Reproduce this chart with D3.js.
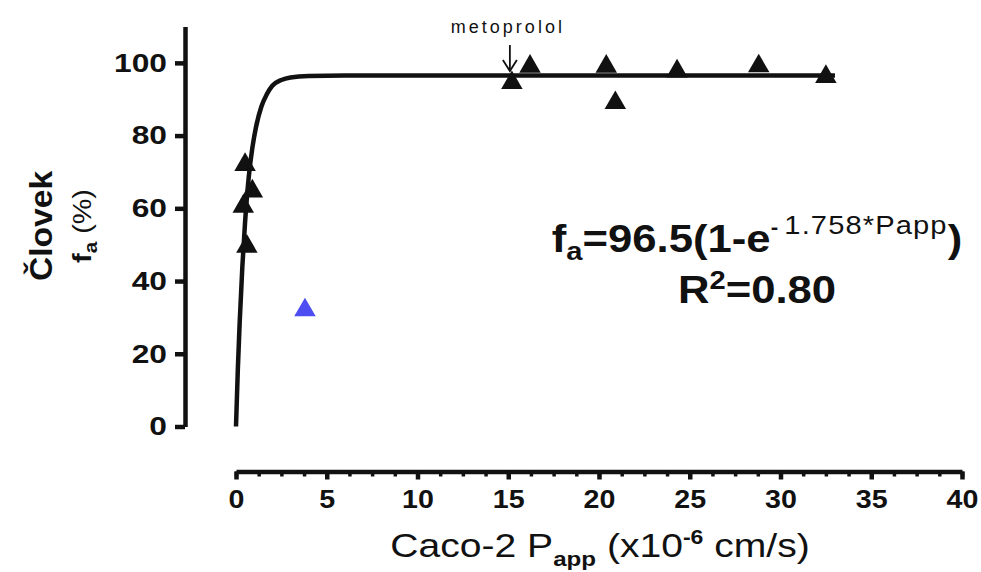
<!DOCTYPE html>
<html>
<head>
<meta charset="utf-8">
<script src="https://cdn.jsdelivr.net/npm/d3@7"></script>
<style>
  body { margin: 0; background: #fff; }
  text { font-family: "Liberation Sans", Arial, sans-serif; fill: #111; }
  .axis path, .axis line { stroke: #111; }
</style>
</head>
<body>
<div id="chart"></div>
<script>
var svgWidth = 981;
var svgHeight = 572;

// Caco-2 Papp (x10^-6 cm/s) vs human fa (%)
var pappValues = [0.5, 0.9, 0.4, 0.6, 15.2, 16.2, 20.4, 20.9, 24.3, 28.8, 32.5];
var faValues = [72, 64.7, 60.5, 49.5, 94.5, 99, 99, 89, 97.7, 99.1, 96.2];
var markedIndex = 4; // metoprolol

// the blue point
var outlierPapp = [3.8];
var outlierFa = [32];

// fitted curve
var curvePapp = [0, 0.1, 0.2, 0.35, 0.5, 0.7, 0.9, 1.1, 1.4, 1.7, 2.0, 2.5, 3.0, 4.0, 6.0, 10, 20, 33];
var curveFa = [0, 15.6, 28.3, 44, 56.2, 68.5, 76.6, 82.3, 88, 91.4, 93.7, 95.3, 96, 96.4, 96.5, 96.5, 96.5, 96.5];

var xTicks = [0, 5, 10, 15, 20, 25, 30, 35, 40];
var yTicks = [0, 20, 40, 60, 80, 100];

var svg = d3.select("#chart")
  .append("svg")
  .attr("width", svgWidth)
  .attr("height", svgHeight);

var xScale = d3.scaleLinear().domain([0, 40]).range([236, 962]);
var yScale = d3.scaleLinear().domain([0, 110]).range([426.5, 26.5]);

// X axis (offset below the plot, with minor ticks)
var xAxisY = 471.5;
var xMinor = svg.append("g")
  .attr("class", "axis")
  .attr("transform", `translate(0, ${xAxisY})`)
  .call(d3.axisBottom(xScale)
    .tickValues(d3.range(0, 40.001, 1.25))
    .tickSize(5)
    .tickSizeOuter(0)
    .tickFormat(""));
xMinor.select(".domain").attr("stroke-width", 4.5);
xMinor.selectAll(".tick line").attr("stroke-width", 3.5);

var xAxis = svg.append("g")
  .attr("class", "axis")
  .attr("transform", `translate(0, ${xAxisY})`)
  .call(d3.axisBottom(xScale)
    .tickValues(xTicks)
    .tickSize(8)
    .tickSizeOuter(0)
    .tickPadding(10));
xAxis.select(".domain").remove();
xAxis.selectAll(".tick line").attr("stroke-width", 4.5);
xAxis.selectAll(".tick text")
  .attr("fill", "#111")
  .attr("transform", "scale(1.1,1)")
  .style("font-size", "26px")
  .style("font-weight", "bold");

// Y axis
var ySx = 1.22;
var yAxis = svg.append("g")
  .attr("class", "axis")
  .attr("transform", "translate(185, 0)")
  .call(d3.axisLeft(yScale)
    .tickValues(yTicks)
    .tickSize(10)
    .tickSizeOuter(0)
    .tickPadding(8));
yAxis.select(".domain").attr("stroke-width", 4.5);
yAxis.selectAll(".tick line").attr("stroke-width", 4.5);
yAxis.selectAll(".tick text")
  .attr("fill", "#111")
  .attr("x", -18 / ySx)
  .attr("transform", `scale(${ySx},1)`)
  .style("font-size", "26px")
  .style("font-weight", "bold");

// fitted curve
var curveData = curvePapp.map((p, i) => ({ p: p, fa: curveFa[i] }));
var line = d3.line()
  .x(d => xScale(d.p))
  .y(d => yScale(d.fa))
  .curve(d3.curveMonotoneX);

svg.append("path")
  .datum(curveData)
  .attr("d", line)
  .attr("fill", "none")
  .attr("stroke", "#111")
  .attr("stroke-width", 4.5);

// points
var tri = d3.symbol().type(d3.symbolTriangle).size(200);
var points = pappValues.map((p, i) => ({ p: p, fa: faValues[i] }));

svg.selectAll(".pt")
  .data(points)
  .enter()
  .append("path")
  .attr("class", "pt")
  .attr("d", tri)
  .attr("transform", d => `translate(${xScale(d.p)}, ${yScale(d.fa)})`)
  .attr("fill", "#111");

svg.selectAll(".outlier")
  .data(outlierPapp.map((p, i) => ({ p: p, fa: outlierFa[i] })))
  .enter()
  .append("path")
  .attr("class", "outlier")
  .attr("d", tri)
  .attr("transform", d => `translate(${xScale(d.p)}, ${yScale(d.fa)})`)
  .attr("fill", "#4d4df2");

// metoprolol label and arrow
var mx = xScale(pappValues[markedIndex]) - 2;
svg.append("text")
  .attr("x", mx - 2)
  .attr("y", 33)
  .attr("text-anchor", "middle")
  .style("font-size", "18px")
  .style("letter-spacing", "3px")
  .text("metoprolol");
svg.append("line")
  .attr("x1", mx).attr("x2", mx)
  .attr("y1", 45).attr("y2", 70)
  .attr("stroke", "#111")
  .attr("stroke-width", 1.8);
svg.append("path")
  .attr("d", `M${mx - 7},${60} L${mx},${71} L${mx + 7},${60}`)
  .attr("fill", "none")
  .attr("stroke", "#111")
  .attr("stroke-width", 1.8);

// equation
var eqSx = 1.12;
var eq = svg.append("text")
  .attr("transform", `translate(757, 252) scale(${eqSx},1)`)
  .attr("text-anchor", "middle")
  .style("font-size", "39px")
  .style("font-weight", "bold");
eq.append("tspan").text("f");
eq.append("tspan").attr("dy", 8).style("font-size", "26px").text("a");
eq.append("tspan").attr("dy", -8).text("=96.5(1-e");
eq.append("tspan").attr("dy", -18).style("font-size", "20px").text("- ");
eq.append("tspan").style("font-size", "26px").style("font-weight", "normal")
  .style("letter-spacing", "1px").text("1.758*Papp");
eq.append("tspan").attr("dy", 18).text(")");

var r2 = svg.append("text")
  .attr("transform", `translate(757, 303) scale(${eqSx},1)`)
  .attr("text-anchor", "middle")
  .style("font-size", "39px")
  .style("font-weight", "bold");
r2.append("tspan").text("R");
r2.append("tspan").attr("dy", -14).style("font-size", "26px").text("2");
r2.append("tspan").attr("dy", 14).text("=0.80");

// y title
var yTitle = svg.append("g").attr("transform", "translate(52, 226) rotate(-90)");
yTitle.append("text")
  .attr("text-anchor", "middle")
  .attr("transform", "scale(1.05,1)")
  .style("font-size", "32px")
  .style("font-weight", "bold")
  .text("Človek");
var yt2 = yTitle.append("text")
  .attr("text-anchor", "middle")
  .attr("y", 39)
  .attr("transform", "scale(1.15,1)")
  .style("font-size", "25px");
yt2.append("tspan").style("font-weight", "bold").text("f");
yt2.append("tspan").attr("dy", 6).style("font-size", "18px").style("font-weight", "bold").text("a");
yt2.append("tspan").attr("dy", -6).text(" (%)");

// x title
var xt = svg.append("text")
  .attr("transform", "translate(600, 557) scale(1.15,1)")
  .attr("text-anchor", "middle")
  .style("font-size", "34px");
xt.append("tspan").text("Caco-2 P");
xt.append("tspan").attr("dy", 9).style("font-size", "21px").style("font-weight", "bold").text("app");
xt.append("tspan").attr("dy", -9).text(" (x10");
xt.append("tspan").attr("dy", -13).style("font-size", "20px").style("font-weight", "bold").text("-6");
xt.append("tspan").attr("dy", 13).text(" cm/s)");
</script>
</body>
</html>
